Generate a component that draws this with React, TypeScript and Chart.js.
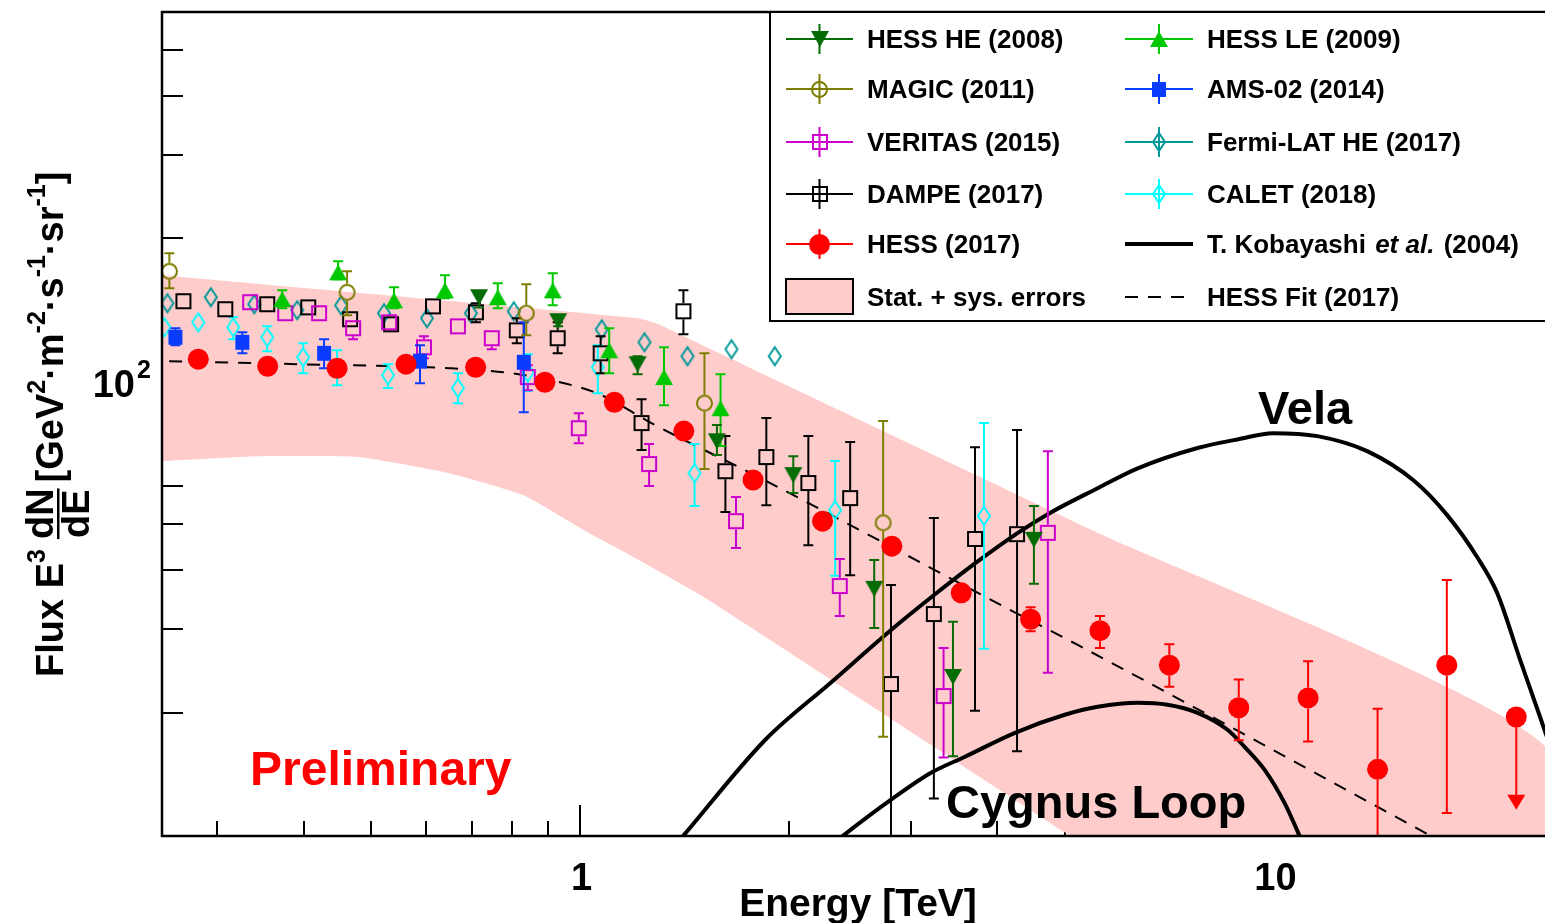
import React, { useEffect, useRef } from 'react';
import { Chart, registerables } from 'chart.js';

Chart.register(...registerables);

const FONT = '"Liberation Sans", Arial, Helvetica, sans-serif';

// ---------- axes ----------
const X_MIN = 0.25;
const X_MAX = 25;
const Y_MIN = 11;
const Y_MAX = 600;
const X_MAJOR = [1, 10];
const X_LABELS = ['1', '10'];
const X_MINOR = [0.3, 0.4, 0.5, 0.6, 0.7, 0.8, 0.9, 2, 3, 4, 5, 6, 7, 8, 9, 20];
const Y_MAJOR = [100];
const Y_MINOR = [20, 30, 40, 50, 60, 70, 80, 90, 200, 300, 400, 500];

// ---------- colours ----------
const C_HE = '#056b05';
const C_LE = '#00c800';
const C_MG = '#7d7d00';
const C_AMS = '#0a3cff';
const C_VT = '#cc00cc';
const C_FM = '#009999';
const C_DP = '#000000';
const C_CL = '#00ffff';
const C_HESS = '#ff0000';
const C_BAND = '#ffcccc';

// ---------- HESS (2017) ----------
const hessE = [0.282, 0.355, 0.447, 0.562, 0.708, 0.891, 1.122, 1.413, 1.778, 2.239, 2.818, 3.548, 4.467, 5.623, 7.079, 8.913, 11.22, 14.13, 17.78, 22.39];
const hessF = [111.3, 107.5, 106.5, 108.6, 107.0, 99.5, 90.3, 78.5, 61.9, 50.7, 44.9, 35.8, 31.5, 29.8, 25.2, 20.5, 21.5, 15.2, 25.2, 19.6];
const hessLo = [109, 105.5, 104.5, 106.5, 105, 97.5, 88.5, 77, 60.5, 49.5, 43.5, 34.8, 29.7, 27.4, 22.7, 17.5, 17.4, 8, 12.3, 12.5];
const hessHi = [113.5, 109.5, 108.5, 110.7, 109, 101.5, 92, 80, 63.3, 52, 46.2, 36.8, 33.4, 32.0, 27.9, 23.5, 25.7, 20.4, 38.1, 19.6];
const hessUpperLimit = [false, false, false, false, false, false, false, false, false, false, false, false, false, false, false, false, false, false, false, true];

// ---------- HESS fit (2017) ----------
const fitE = [0.256, 0.394, 0.648, 0.798, 0.974, 1.076, 1.269, 1.87, 4.101, 5.224, 16.83, 19.0];
const fitF = [110.2, 108.6, 106.5, 103.9, 98.1, 93.4, 81.6, 61.3, 33.4, 27.8, 11.02, 10.0];

// ---------- Stat + sys band ----------
const bandUpE = [0.25, 1.216, 1.299, 1.483, 2.207, 5.58, 25];
const bandUpF = [167.2, 135.7, 131.8, 120.2, 91.2, 47.9, 16.6];
const bandLoE = [25, 5.003, 1.533, 1.216, 1.03, 0.83, 0.648, 0.48, 0.345, 0.25];
const bandLoF = [2.4, 11.2, 34.6, 42.0, 47.9, 57.5, 64.0, 69.2, 69.5, 67.9];

// ---------- Kobayashi et al. (2004) ----------
const velaE = [1.299, 1.411, 1.852, 2.305, 2.811, 3.232, 3.714, 4.282, 4.777, 5.582, 6.373, 7.775, 8.963, 9.968, 11.57, 13.65, 15.96, 17.8, 19.66, 21.01, 22.67, 24.23, 25.6];
const velaF = [9.58, 11.02, 17.55, 23.2, 29.9, 35.3, 41.3, 47.9, 52.9, 59.5, 65.5, 72.3, 75.6, 77.7, 76.6, 71.2, 61.6, 52.2, 42.6, 35.8, 25.9, 19.6, 15.5];
const cygE = [2.282, 2.398, 2.811, 3.21, 3.593, 4.241, 5.003, 5.582, 6.373, 7.039, 7.775, 8.586, 9.085, 9.707, 10.37, 10.9, 11.19];
const cygF = [10.39, 11.02, 13.12, 14.95, 16.16, 18.15, 19.81, 20.59, 21.0, 20.8, 20.0, 18.42, 16.96, 15.18, 12.93, 11.02, 10.05];

// ---------- HESS HE (2008) ----------
const heE = [0.716, 0.931, 1.212, 1.577, 2.032, 2.658, 3.452, 4.516];
const heF = [150.3, 133.8, 108.6, 74.7, 63.4, 36.5, 23.8, 46.3];
const heLo = [143, 130.5, 103.4, 69.9, 58.1, 30.2, 16.2, 37.4];
const heHi = [153, 137, 112.9, 80.8, 69.5, 42.0, 31.1, 54.6];

// ---------- HESS LE (2009) ----------
const leE = [0.3726, 0.4485, 0.54, 0.6394, 0.762, 0.9144, 1.103, 1.323, 1.596];
const leF = [148.9, 169.6, 148.1, 155.4, 150.3, 155.4, 116.2, 102.0, 87.7];
const leLo = [142.5, 164.0, 142.5, 149.6, 142.5, 144.5, 103.9, 89.0, 73.0];
const leHi = [155.4, 178.9, 157.8, 167.2, 160.8, 168.8, 129.3, 117.9, 103.4];

// ---------- MAGIC (2011) ----------
const mgE = [0.2562, 0.4621, 0.8376, 1.513, 2.738];
const mgF = [170.4, 153.9, 139.1, 89.9, 50.3];
const mgLo = [157.0, 137.7, 125.0, 65.3, 17.8];
const mgHi = [186.0, 170.4, 160.1, 114.5, 82.4];

// ---------- AMS-02 (2014) ----------
const amsE = [0.2614, 0.3264, 0.4281, 0.5886, 0.8306];
const amsF = [123.8, 120.8, 114.5, 110.2, 109.6];
const amsLo = [119.1, 114.5, 106.5, 99.0, 86.0];
const amsHi = [129.3, 126.8, 122.6, 119.1, 133.1];

// ---------- VERITAS (2015) ----------
const vtE = [0.335, 0.3763, 0.4211, 0.4714, 0.5312, 0.5964, 0.6675, 0.7469, 0.8418, 0.997, 1.259, 1.68, 2.371, 3.346, 4.73];
const vtF = [146.7, 139.1, 139.1, 129.3, 133.1, 117.9, 130.5, 123.2, 102.0, 79.6, 66.9, 50.7, 37.0, 21.7, 47.9];
const vtLo = [143.5, 136, 136, 122.6, 130, 111.8, 127.5, 116.8, 95.7, 74.0, 60.1, 44.5, 32.0, 16.1, 24.3];
const vtHi = [150, 142, 142, 134, 136, 124.4, 133.5, 128.6, 108.1, 85.6, 73.7, 57.0, 42.2, 27.4, 71.2];

// ---------- Fermi-LAT HE (2017) ----------
const fmE = [0.2545, 0.294, 0.3396, 0.3916, 0.453, 0.5224, 0.6024, 0.6969, 0.8035, 1.076, 1.24, 1.43, 1.655, 1.911];
const fmF = [146.0, 150.3, 145.3, 141.1, 144.5, 139.1, 135.7, 139.1, 140.4, 128.6, 120.8, 112.9, 116.8, 112.9];
const fmLo = [144, 148.3, 143.3, 139.1, 142.5, 137.1, 133.7, 137.1, 138.4, 126.6, 118.8, 110.9, 111.8, 109.1];
const fmHi = [148, 152.3, 147.3, 143.1, 146.5, 141.1, 137.7, 141.1, 142.4, 130.6, 122.8, 114.9, 122.0, 117.3];

// ---------- DAMPE (2017) ----------
const dpE = [0.2684, 0.3084, 0.3545, 0.4062, 0.4667, 0.5348, 0.6145, 0.7086, 0.8116, 0.9296, 1.072, 1.228, 1.411, 1.622, 1.858, 2.136, 2.454, 2.81, 3.24, 3.714, 4.27];
const dpF = [147.4, 141.8, 145.3, 143.1, 135.1, 131.8, 143.8, 139.7, 128.0, 123.2, 114.5, 81.6, 140.4, 64.6, 69.2, 61.0, 56.7, 23.0, 32.3, 46.5, 47.6];
const dpLo = [145, 139.5, 143, 141, 133, 129.5, 141, 133.1, 120.2, 114.5, 103.9, 71.6, 125.6, 53.0, 54.8, 45.1, 39.0, 8, 13.2, 20.2, 16.6];
const dpHi = [150, 144, 147.6, 145.4, 137.3, 134, 146.2, 146.0, 135.7, 133.1, 124.4, 91.6, 155.4, 76.6, 83.6, 76.6, 74.4, 37.2, 51.5, 72.6, 78.9];

// ---------- CALET (2018) ----------
const clE = [0.252, 0.282, 0.3167, 0.3545, 0.3994, 0.447, 0.5294, 0.6675, 0.8418, 1.062, 1.464, 2.335, 3.826];
const clF = [129.9, 133.1, 129.9, 123.8, 112.3, 106.5, 102.9, 96.7, 104.4, 107.0, 64.0, 53.5, 52.0];
const clLo = [123.8, 126.8, 122.6, 115.7, 103.9, 98.1, 96.7, 89.9, 95.3, 94.3, 54.6, 38.9, 27.3];
const clHi = [135.7, 139.7, 136.4, 130.5, 120.2, 116.2, 108.6, 103.9, 114.0, 119.1, 73.7, 67.9, 81.6];

type MarkerKind = 'triUp' | 'triDown' | 'circleOpen' | 'squareOpen' | 'squareFilled' | 'diamondOpen' | 'circleFilled';

function makeMarker(kind: MarkerKind, color: string, w: number, h: number, lw = 2): HTMLCanvasElement {
  const pad = 3;
  const c = document.createElement('canvas');
  c.width = Math.round(w + pad * 2);
  c.height = Math.round(h + pad * 2);
  const ctx = c.getContext('2d')!;
  const cx = c.width / 2;
  const cy = c.height / 2;
  ctx.strokeStyle = color;
  ctx.fillStyle = color;
  ctx.lineWidth = lw;
  ctx.lineJoin = 'miter';
  ctx.beginPath();
  if (kind === 'triUp') {
    ctx.moveTo(cx, cy - h / 2);
    ctx.lineTo(cx + w / 2, cy + h / 2);
    ctx.lineTo(cx - w / 2, cy + h / 2);
    ctx.closePath();
    ctx.fill();
  } else if (kind === 'triDown') {
    ctx.moveTo(cx, cy + h / 2);
    ctx.lineTo(cx + w / 2, cy - h / 2);
    ctx.lineTo(cx - w / 2, cy - h / 2);
    ctx.closePath();
    ctx.fill();
  } else if (kind === 'circleOpen') {
    ctx.arc(cx, cy, w / 2 - lw / 2, 0, Math.PI * 2);
    ctx.stroke();
  } else if (kind === 'circleFilled') {
    ctx.arc(cx, cy, w / 2, 0, Math.PI * 2);
    ctx.fill();
  } else if (kind === 'squareOpen') {
    ctx.rect(cx - w / 2 + lw / 2, cy - h / 2 + lw / 2, w - lw, h - lw);
    ctx.stroke();
  } else if (kind === 'squareFilled') {
    ctx.rect(cx - w / 2, cy - h / 2, w, h);
    ctx.fill();
  } else if (kind === 'diamondOpen') {
    ctx.moveTo(cx, cy - h / 2);
    ctx.lineTo(cx + w / 2, cy);
    ctx.lineTo(cx, cy + h / 2);
    ctx.lineTo(cx - w / 2, cy);
    ctx.closePath();
    ctx.stroke();
  }
  return c;
}

function font(size: number, style = 'bold') {
  return `${style} ${size}px ${FONT}`;
}

const errorBarPlugin = {
  id: 'errorBars',
  beforeDatasetDraw(chart: any, args: any) {
    const ds = chart.data.datasets[args.index];
    const eb = ds.errorBars;
    if (!eb) return;
    const { ctx, chartArea } = chart;
    const xs = chart.scales.x;
    const ys = chart.scales.y;
    ctx.save();
    ctx.beginPath();
    ctx.rect(chartArea.left, chartArea.top, chartArea.right - chartArea.left, chartArea.bottom - chartArea.top);
    ctx.clip();
    ctx.strokeStyle = eb.color;
    ctx.fillStyle = eb.color;
    ctx.lineWidth = 2;
    const cap = 5;
    ds.data.forEach((p: any) => {
      const px = xs.getPixelForValue(p.x);
      const py = ys.getPixelForValue(p.y);
      const yHi = ys.getPixelForValue(p.hi);
      const yLo = ys.getPixelForValue(p.lo);
      if (p.ul) {
        ctx.beginPath();
        ctx.moveTo(px, py);
        ctx.lineTo(px, yLo - 12);
        ctx.stroke();
        ctx.beginPath();
        ctx.moveTo(px - 9, yLo - 15);
        ctx.lineTo(px + 9, yLo - 15);
        ctx.lineTo(px, yLo);
        ctx.closePath();
        ctx.fill();
        return;
      }
      if (py - yHi > eb.gap + 1) {
        ctx.beginPath();
        ctx.moveTo(px, py - eb.gap);
        ctx.lineTo(px, yHi);
        ctx.moveTo(px - cap, yHi);
        ctx.lineTo(px + cap, yHi);
        ctx.stroke();
      }
      if (yLo - py > eb.gap + 1) {
        ctx.beginPath();
        ctx.moveTo(px, py + eb.gap);
        ctx.lineTo(px, yLo);
        ctx.moveTo(px - cap, yLo);
        ctx.lineTo(px + cap, yLo);
        ctx.stroke();
      }
    });
    ctx.restore();
  },
};

const ticksPlugin = {
  id: 'rootTicks',
  beforeDatasetsDraw(chart: any) {
    const { ctx, chartArea } = chart;
    const xs = chart.scales.x;
    const ys = chart.scales.y;
    ctx.save();
    ctx.strokeStyle = '#000';
    ctx.lineWidth = 2;
    ctx.beginPath();
    X_MINOR.forEach((v) => {
      const x = Math.round(xs.getPixelForValue(v));
      ctx.moveTo(x, chartArea.bottom);
      ctx.lineTo(x, chartArea.bottom - 15);
    });
    X_MAJOR.forEach((v) => {
      const x = Math.round(xs.getPixelForValue(v));
      ctx.moveTo(x, chartArea.bottom);
      ctx.lineTo(x, chartArea.bottom - 31);
    });
    Y_MINOR.forEach((v) => {
      const y = Math.round(ys.getPixelForValue(v));
      ctx.moveTo(chartArea.left, y);
      ctx.lineTo(chartArea.left + 21, y);
    });
    Y_MAJOR.forEach((v) => {
      const y = Math.round(ys.getPixelForValue(v));
      ctx.moveTo(chartArea.left, y);
      ctx.lineTo(chartArea.left + 42, y);
    });
    ctx.stroke();
    ctx.restore();
  },
};

function makeOverlayPlugin(mk: Record<string, HTMLCanvasElement>) {
  return {
    id: 'overlay',
    afterDatasetsDraw(chart: any) {
      const { ctx, chartArea } = chart;
      const xs = chart.scales.x;
      const ys = chart.scales.y;
      ctx.save();
      // frame
      ctx.strokeStyle = '#000';
      ctx.lineWidth = 2.5;
      ctx.strokeRect(chartArea.left, chartArea.top, chartArea.right - chartArea.left, chartArea.bottom - chartArea.top);

      // annotations
      ctx.textBaseline = 'alphabetic';
      ctx.textAlign = 'left';
      ctx.fillStyle = '#000';
      ctx.font = font(47);
      ctx.fillText('Vela', 1258, 424);
      ctx.fillText('Cygnus Loop', 946, 818);
      ctx.fillStyle = C_HESS;
      ctx.font = font(48);
      ctx.fillText('Preliminary', 250, 785);

      // tick labels
      ctx.fillStyle = '#000';
      ctx.font = font(38);
      ctx.textAlign = 'center';
      X_MAJOR.forEach((v, i) => {
        ctx.fillText(X_LABELS[i], xs.getPixelForValue(v) + 2, 890);
      });
      const y100 = ys.getPixelForValue(100);
      ctx.textAlign = 'right';
      ctx.fillText('10', 135, y100 + 16);
      ctx.textAlign = 'left';
      ctx.font = font(25);
      ctx.fillText('2', 137, y100 - 3);

      // x title
      ctx.font = font(39);
      ctx.textAlign = 'center';
      ctx.fillText('Energy [TeV]', 858, 916);

      // y title
      ctx.save();
      ctx.translate(63, 677);
      ctx.rotate(-Math.PI / 2);
      ctx.textAlign = 'left';
      let cx = 0;
      const big = 38;
      const small = 25;
      const put = (s: string, size: number, dy: number, style = 'bold') => {
        ctx.font = font(size, style);
        ctx.fillText(s, cx, dy);
        cx += ctx.measureText(s).width;
      };
      put('Flux E', big, 0);
      put('3', small, -18);
      cx += 10;
      ctx.font = font(big);
      const wN = ctx.measureText('dN').width;
      const wD = ctx.measureText('dE').width;
      const fw = Math.max(wN, wD);
      ctx.fillText('dN', cx + (fw - wN) / 2, -10);
      ctx.fillText('dE', cx + (fw - wD) / 2, 26);
      ctx.fillRect(cx, -6, fw, 2.5);
      cx += fw + 6;
      put('[GeV', big, 0);
      put('2', small, -18);
      put('\u00b7m', big, 0);
      put('-2', small, -18);
      put('\u00b7s', big, 0);
      put('-1', small, -18);
      put('\u00b7sr', big, 0);
      put('-1', small, -18);
      put(']', big, 0);
      ctx.restore();

      // legend
      const LX = 770;
      const LY = 12;
      ctx.fillStyle = '#fff';
      ctx.fillRect(LX, LY, 800, 309);
      ctx.strokeStyle = '#000';
      ctx.lineWidth = 2;
      ctx.strokeRect(LX, LY, 800, 309);
      const rows = [39, 89, 142, 194, 244, 297];
      const col = [
        { l: 786, r: 853, t: 867 },
        { l: 1125, r: 1193, t: 1207 },
      ];
      const entry = (c: number, r: number, color: string, marker: HTMLCanvasElement | null, label: string) => {
        const y = rows[r];
        const { l, r: rr, t } = col[c];
        const mx = (l + rr) / 2;
        ctx.strokeStyle = color;
        ctx.lineWidth = 2;
        ctx.beginPath();
        ctx.moveTo(l, y);
        ctx.lineTo(rr, y);
        ctx.moveTo(mx, y - 15);
        ctx.lineTo(mx, y + 15);
        ctx.stroke();
        if (marker) ctx.drawImage(marker, Math.round(mx - marker.width / 2), Math.round(y - marker.height / 2));
        ctx.fillStyle = '#000';
        ctx.font = font(26);
        ctx.textAlign = 'left';
        ctx.fillText(label, t, y + 9);
      };
      entry(0, 0, C_HE, mk.he, 'HESS HE (2008)');
      entry(0, 1, C_MG, mk.mg, 'MAGIC (2011)');
      entry(0, 2, C_VT, mk.vt, 'VERITAS (2015)');
      entry(0, 3, C_DP, mk.dp, 'DAMPE (2017)');
      entry(0, 4, C_HESS, mk.hess, 'HESS (2017)');
      entry(1, 0, C_LE, mk.le, 'HESS LE (2009)');
      entry(1, 1, C_AMS, mk.ams, 'AMS-02 (2014)');
      entry(1, 2, C_FM, mk.fm, 'Fermi-LAT HE (2017)');
      entry(1, 3, C_CL, mk.cl, 'CALET (2018)');
      // band entry
      ctx.fillStyle = C_BAND;
      ctx.fillRect(786, 279, 67, 35);
      ctx.strokeStyle = '#000';
      ctx.lineWidth = 2;
      ctx.strokeRect(786, 279, 67, 35);
      ctx.fillStyle = '#000';
      ctx.font = font(26);
      ctx.fillText('Stat. + sys. errors', 867, rows[5] + 9);
      // Kobayashi
      ctx.lineWidth = 4;
      ctx.beginPath();
      ctx.moveTo(1125, rows[4]);
      ctx.lineTo(1193, rows[4]);
      ctx.stroke();
      let tx = 1207;
      ctx.font = font(26);
      ctx.fillText('T. Kobayashi ', tx, rows[4] + 9);
      tx += ctx.measureText('T. Kobayashi ').width + 2;
      ctx.font = font(26, 'italic bold');
      ctx.fillText('et al.', tx, rows[4] + 9);
      tx += ctx.measureText('et al.').width + 2;
      ctx.font = font(26);
      ctx.fillText(' (2004)', tx, rows[4] + 9);
      // fit
      ctx.lineWidth = 2;
      ctx.setLineDash([13, 10]);
      ctx.beginPath();
      ctx.moveTo(1125, rows[5]);
      ctx.lineTo(1193, rows[5]);
      ctx.stroke();
      ctx.setLineDash([]);
      ctx.fillText('HESS Fit (2017)', 1207, rows[5] + 9);
      ctx.restore();
    },
  };
}

export default function App() {
  const ref = useRef<HTMLCanvasElement>(null);

  useEffect(() => {
    const canvas = ref.current;
    if (!canvas) return;
    const mk: Record<string, HTMLCanvasElement> = {
      he: makeMarker('triDown', C_HE, 18, 16),
      le: makeMarker('triUp', C_LE, 18, 16),
      mg: makeMarker('circleOpen', C_MG, 17, 17),
      ams: makeMarker('squareFilled', C_AMS, 14, 15),
      vt: makeMarker('squareOpen', C_VT, 16, 16),
      fm: makeMarker('diamondOpen', C_FM, 12, 18),
      dp: makeMarker('squareOpen', C_DP, 16, 16),
      cl: makeMarker('diamondOpen', C_CL, 12, 18),
      hess: makeMarker('circleFilled', C_HESS, 21, 21),
    };

    const pts = (E: number[], F: number[], lo: number[], hi: number[], ul?: boolean[]) =>
      E.map((x, i) => ({ x, y: F[i], lo: lo[i], hi: hi[i], ul: ul ? ul[i] : false }));
    const xy = (E: number[], F: number[]) => E.map((x, i) => ({ x, y: F[i] }));

    const series = (label: string, E: number[], F: number[], lo: number[], hi: number[], marker: HTMLCanvasElement, color: string, gap: number, order: number) => ({
      label,
      data: pts(E, F, lo, hi),
      showLine: false,
      pointStyle: marker,
      pointRadius: 8,
      borderWidth: 0,
      backgroundColor: color,
      borderColor: color,
      errorBars: { color, gap },
      order,
    });

    const bandData = [...xy(bandUpE, bandUpF), ...xy(bandLoE, bandLoF)];

    const datasets: any[] = [
      {
        label: 'band',
        data: bandData,
        showLine: true,
        fill: 'shape',
        backgroundColor: C_BAND,
        borderColor: 'rgba(0,0,0,0)',
        borderWidth: 0,
        pointRadius: 0,
        tension: 0.15,
        order: 100,
      },
      {
        label: 'Vela',
        data: xy(velaE, velaF),
        showLine: true,
        borderColor: '#000',
        borderWidth: 4,
        pointRadius: 0,
        cubicInterpolationMode: 'monotone',
        order: 90,
      },
      {
        label: 'Cygnus Loop',
        data: xy(cygE, cygF),
        showLine: true,
        borderColor: '#000',
        borderWidth: 4,
        pointRadius: 0,
        cubicInterpolationMode: 'monotone',
        order: 89,
      },
      {
        label: 'HESS Fit (2017)',
        data: xy(fitE, fitF),
        showLine: true,
        borderColor: '#000',
        borderWidth: 2,
        borderDash: [13, 10],
        pointRadius: 0,
        cubicInterpolationMode: 'monotone',
        order: 80,
      },
      series('CALET (2018)', clE, clF, clLo, clHi, mk.cl, C_CL, 9, 20),
      series('Fermi-LAT HE (2017)', fmE, fmF, fmLo, fmHi, mk.fm, C_FM, 9, 19),
      series('DAMPE (2017)', dpE, dpF, dpLo, dpHi, mk.dp, C_DP, 8, 18),
      series('VERITAS (2015)', vtE, vtF, vtLo, vtHi, mk.vt, C_VT, 8, 17),
      series('AMS-02 (2014)', amsE, amsF, amsLo, amsHi, mk.ams, C_AMS, 0, 16),
      series('MAGIC (2011)', mgE, mgF, mgLo, mgHi, mk.mg, C_MG, 8.5, 15),
      series('HESS LE (2009)', leE, leF, leLo, leHi, mk.le, C_LE, 0, 14),
      series('HESS HE (2008)', heE, heF, heLo, heHi, mk.he, C_HE, 0, 13),
      {
        label: 'HESS (2017)',
        data: pts(hessE, hessF, hessLo, hessHi, hessUpperLimit),
        showLine: false,
        pointStyle: 'circle',
        pointRadius: 10.5,
        borderWidth: 0,
        backgroundColor: C_HESS,
        borderColor: C_HESS,
        errorBars: { color: C_HESS, gap: 10.5 },
        order: 0,
      },
    ];

    const chart = new Chart(canvas, {
      type: 'scatter',
      data: { datasets },
      options: {
        responsive: false,
        maintainAspectRatio: false,
        devicePixelRatio: 1,
        animation: false,
        events: [],
        layout: { padding: { left: 162, top: 12, right: 7.5, bottom: 87 } },
        scales: {
          x: { type: 'logarithmic', min: X_MIN, max: X_MAX, display: false },
          y: { type: 'logarithmic', min: Y_MIN, max: Y_MAX, display: false },
        },
        plugins: {
          legend: { display: false },
          tooltip: { enabled: false },
          title: { display: false },
        },
      } as any,
      plugins: [ticksPlugin, errorBarPlugin, makeOverlayPlugin(mk)] as any,
    });
    return () => chart.destroy();
  }, []);

  return (
    <div style={{ position: 'fixed', left: 0, top: 0, width: 1545, height: 923, overflow: 'hidden', background: '#fff' }}>
      <canvas ref={ref} width={1560} height={923} style={{ width: 1560, height: 923, display: 'block' }} />
    </div>
  );
}
